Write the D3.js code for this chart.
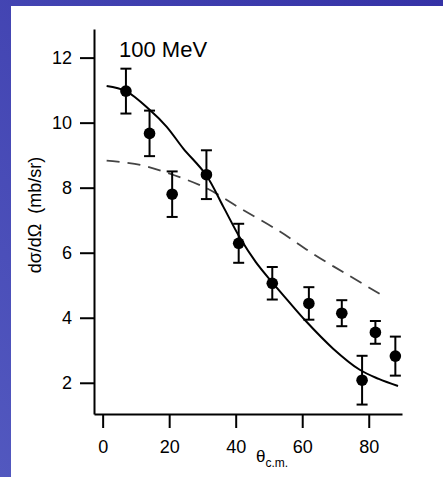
<!DOCTYPE html>
<html>
<head>
<meta charset="utf-8">
<script src="https://cdn.jsdelivr.net/npm/d3@7"></script>
<style>
  html, body { margin: 0; padding: 0; }
  svg { display: block; font-family: "Liberation Sans", Arial, Helvetica, sans-serif; }
</style>
</head>
<body>
<script>
// measured points: angle (deg, c.m.), cross section (mb/sr), error
const angles = [7.0, 14.1, 20.9, 31.2, 40.9, 51.0, 62.0, 71.9, 82.0, 78.0, 88.0];
const sigma  = [10.97, 9.67, 7.80, 8.40, 6.29, 5.06, 4.44, 4.14, 3.55, 2.08, 2.82];
const errors = [0.69, 0.70, 0.70, 0.75, 0.60, 0.50, 0.50, 0.40, 0.35, 0.75, 0.60];

// solid calculation
const solidX = [1.2, 7.0, 14.2, 19.2, 24.2, 31.1, 36.3, 41.5, 46.0, 50.8, 55.5, 60.8, 69.3, 77.3, 83.0, 88.8];
const solidY = [11.13, 10.97, 10.39, 9.88, 9.21, 8.39, 7.41, 6.42, 5.72, 5.11, 4.55, 3.93, 3.05, 2.40, 2.12, 1.90];

// dashed calculation
const dashX = [1.2, 11.3, 21.3, 31.3, 41.3, 53.3, 63.8, 74.0, 84.5];
const dashY = [8.83, 8.70, 8.39, 7.98, 7.37, 6.65, 5.93, 5.30, 4.66];

const xTicks = [0, 20, 40, 60, 80];
const yTicks = [2, 4, 6, 8, 10, 12];

const W = 443, H = 477;
const margin = {top: 29, right: 41, bottom: 63, left: 94};

const svg = d3.select("body").append("svg")
    .attr("width", W)
    .attr("height", H);

// slide background
const defs = svg.append("defs");
const grad = defs.append("linearGradient")
    .attr("id", "bg")
    .attr("x1", "0").attr("y1", "1").attr("x2", "1").attr("y2", "0");
grad.append("stop").attr("offset", "0").attr("stop-color", "#5258bf");
grad.append("stop").attr("offset", "1").attr("stop-color", "#3532a6");
svg.append("rect").attr("width", W).attr("height", H).attr("fill", "url(#bg)");
svg.append("rect").attr("x", 11).attr("y", 6).attr("width", W - 11).attr("height", H - 6).attr("fill", "#fff");

const x = d3.scaleLinear()
    .domain([-2.6, 90])
    .range([margin.left, W - margin.right]);
const y = d3.scaleLinear()
    .domain([1.04, 12.88])
    .range([H - margin.bottom, margin.top]);

const gx = svg.append("g")
    .attr("transform", "translate(0," + (H - margin.bottom) + ")")
    .call(d3.axisBottom(x).tickValues(xTicks).tickSize(14).tickSizeOuter(0).tickPadding(12));
const gy = svg.append("g")
    .attr("transform", "translate(" + margin.left + ",0)")
    .call(d3.axisLeft(y).tickValues(yTicks).tickSize(14).tickSizeOuter(0).tickPadding(8));

[gx, gy].forEach(g => {
    g.selectAll("path, line").attr("stroke", "#000").attr("stroke-width", 2);
    g.selectAll("text").attr("fill", "#000").style("font-size", "18px")
        .style("font-family", "'Liberation Sans', Arial, sans-serif");
});

// curves
const line = d3.line()
    .x(d => x(d[0]))
    .y(d => y(d[1]))
    .curve(d3.curveCatmullRom);

svg.append("path")
    .datum(dashX.map((v, i) => [v, dashY[i]]))
    .attr("d", line)
    .attr("fill", "none")
    .attr("stroke", "#444")
    .attr("stroke-width", 1.8)
    .attr("stroke-dasharray", "13,8");

svg.append("path")
    .datum(solidX.map((v, i) => [v, solidY[i]]))
    .attr("d", line)
    .attr("fill", "none")
    .attr("stroke", "#000")
    .attr("stroke-width", 2);

// data points with error bars
const pts = angles.map((a, i) => ({a: a, s: sigma[i], e: errors[i]}));
const cap = 5.5;
const bars = svg.append("g").attr("stroke", "#000").attr("stroke-width", 2);
pts.forEach(d => {
    const cx = x(d.a), top = y(d.s + d.e), bot = y(d.s - d.e);
    bars.append("line").attr("x1", cx).attr("x2", cx).attr("y1", top).attr("y2", bot);
    bars.append("line").attr("x1", cx - cap).attr("x2", cx + cap).attr("y1", top).attr("y2", top);
    bars.append("line").attr("x1", cx - cap).attr("x2", cx + cap).attr("y1", bot).attr("y2", bot);
});
svg.append("g")
    .selectAll("circle")
    .data(pts)
    .enter()
    .append("circle")
    .attr("cx", d => x(d.a))
    .attr("cy", d => y(d.s))
    .attr("r", 5.8)
    .attr("fill", "#000");

// labels
svg.append("text")
    .attr("x", 119)
    .attr("y", 57)
    .style("font-size", "22px")
    .text("100 MeV");

svg.append("text")
    .attr("transform", "translate(41,215) rotate(-90)")
    .attr("text-anchor", "middle")
    .style("font-size", "18px")
    .style("white-space", "pre")
    .text("dσ/dΩ  (mb/sr)");

const xt = svg.append("text")
    .attr("x", 256)
    .attr("y", 462)
    .style("font-size", "17px");
xt.append("tspan").text("θ");
xt.append("tspan").attr("dy", 5).style("font-size", "12px").text("c.m.");
</script>
</body>
</html>
